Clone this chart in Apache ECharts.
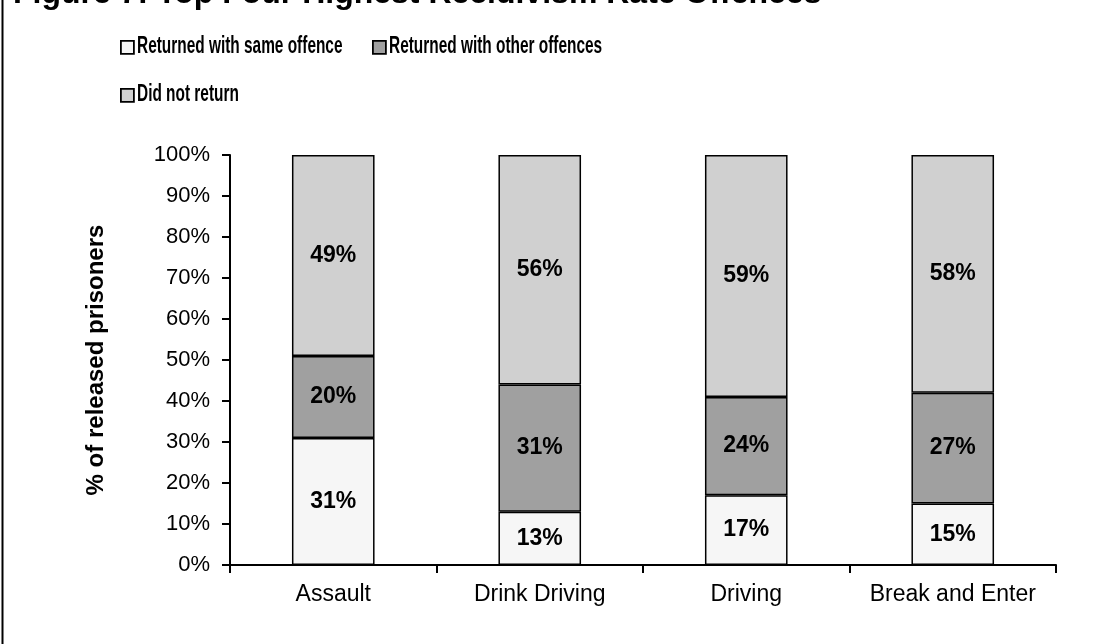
<!DOCTYPE html>
<html><head><meta charset="utf-8">
<script src="https://cdn.jsdelivr.net/npm/echarts@6/dist/echarts.min.js"></script>
<style>html,body{margin:0;padding:0;background:#fff}#c{width:1114px;height:644px}</style>
</head><body><div id="c"></div>
<script>
var categories = ['Assault', 'Drink Driving', 'Driving', 'Break and Enter'];
var sameOffence = [31, 13, 17, 15];
var otherOffences = [20, 31, 24, 27];
var didNotReturn = [49, 56, 59, 58];
var seriesNames = ['Returned with same offence', 'Returned with other offences', 'Did not return'];
var yTicks = [0, 10, 20, 30, 40, 50, 60, 70, 80, 90, 100];

var chart = echarts.init(document.getElementById('c'));
var F = 'Arial, "Liberation Sans", sans-serif';
function mk(name, data, color) {
  return {
    name: name, type: 'bar', stack: 'all', data: data, barWidth: '40%',
    itemStyle: {color: color, borderColor: '#000', borderWidth: 1.5},
    label: {show: true, position: 'inside', formatter: '{c}%', color: '#000',
      fontFamily: F, fontWeight: 'bold', fontSize: 23}
  };
}
// legend slots: [left, top] of each legend marker
var legendPos = [[120, 40], [372, 40], [120, 88]];
var legends = seriesNames.map(function (n, i) {
  return {data: [n], left: legendPos[i][0], top: legendPos[i][1], padding: 0, itemWidth: 13, itemHeight: 13,
    icon: 'rect', formatter: function () { return ''; }, textStyle: {fontSize: 1},
    itemStyle: {borderColor: '#000', borderWidth: 1.8}};
});
var legendTexts = seriesNames.map(function (n, i) {
  return {type: 'text', left: legendPos[i][0] + 17, top: legendPos[i][1] - 4.5, scaleX: 0.67, originX: 0,
    style: {text: n, font: 'bold 23px Arial, "Liberation Sans", sans-serif', fill: '#000'}};
});
chart.setOption({
  animation: false,
  title: {text: 'Figure 7: Top Four Highest Recidivism Rate Offences', left: 8, top: -27,
    textStyle: {fontFamily: F, fontWeight: 'bold', fontSize: 32, color: '#000'}},
  legend: legends,
  graphic: [{type: 'line', shape: {x1: 2.5, y1: 0, x2: 2.5, y2: 644}, style: {stroke: '#000', lineWidth: 2}}].concat(legendTexts),
  grid: {left: 230, right: 58, top: 155, bottom: 79},
  xAxis: {type: 'category', data: categories,
    axisLine: {lineStyle: {color: '#000', width: 2}},
    axisTick: {show: true, interval: 0, length: 8, lineStyle: {color: '#000', width: 2}},
    axisLabel: {color: '#000', fontFamily: F, fontSize: 23, margin: 18, interval: 0}},
  yAxis: {type: 'value', min: yTicks[0], max: yTicks[yTicks.length - 1], interval: 10,
    name: '% of released prisoners', nameLocation: 'middle', nameGap: 122,
    nameTextStyle: {fontFamily: F, fontWeight: 'bold', fontSize: 24, color: '#000'},
    axisLine: {show: true, lineStyle: {color: '#000', width: 2}},
    axisTick: {show: true, length: 8, lineStyle: {color: '#000', width: 2}},
    splitLine: {show: false},
    axisLabel: {color: '#000', fontFamily: F, fontSize: 22, margin: 20, formatter: '{value}%'}},
  series: [
    mk(seriesNames[0], sameOffence, '#f6f6f6'),
    mk(seriesNames[1], otherOffences, '#a0a0a0'),
    mk(seriesNames[2], didNotReturn, '#d0d0d0')
  ]
});
</script></body></html>
